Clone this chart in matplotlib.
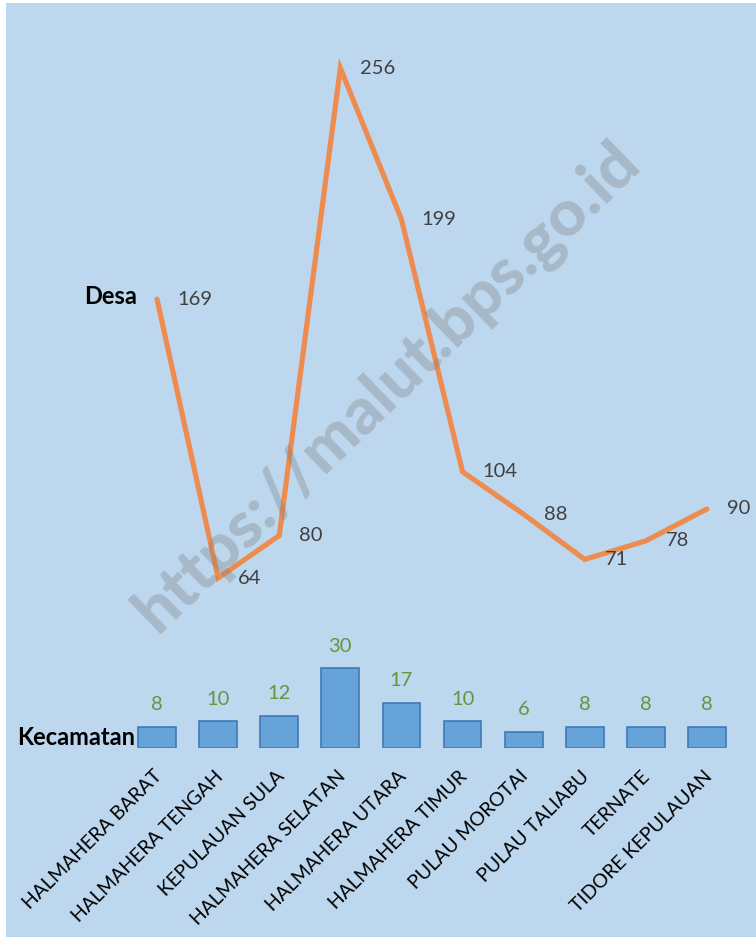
import matplotlib
matplotlib.use("Agg")
import matplotlib.pyplot as plt
import matplotlib.transforms as mtransforms
from matplotlib.patches import Rectangle

categories = ["HALMAHERA BARAT", "HALMAHERA TENGAH", "KEPULAUAN SULA",
              "HALMAHERA SELATAN", "HALMAHERA UTARA", "HALMAHERA TIMUR",
              "PULAU MOROTAI", "PULAU TALIABU", "TERNATE", "TIDORE KEPULAUAN"]
desa = [169, 64, 80, 256, 199, 104, 88, 71, 78, 90]
kecamatan = [8, 10, 12, 30, 17, 10, 6, 8, 8, 8]
series_names = ["Desa", "Kecamatan"]
watermark = "https://malut.bps.go.id"

W, H = 756, 941
fig = plt.figure(figsize=(W / 100, H / 100), dpi=100, facecolor="white")
bg = "#BDD7EE"
fig.patches.append(Rectangle((6 / W, (H - 937) / H), (W - 6) / W, (937 - 3) / H,
                             transform=fig.transFigure, facecolor=bg,
                             edgecolor="none", zorder=-10))

font = "Lato"
ax = fig.add_axes([126.5 / W, (H - 748) / H, 611 / W, 270 * 2.656 / H])
ax.set_zorder(1)
ax.set_facecolor("none")
ax.set_xlim(-0.5, 9.5)
ax.set_ylim(0, 270)
for s in ax.spines.values():
    s.set_visible(False)
ax.tick_params(axis="both", length=0)
ax.set_yticks([])

x = list(range(len(categories)))
ax.bar(x, kecamatan, width=0.62, color="#66A3D9", edgecolor="#3F7AB8",
       linewidth=1.2, zorder=2)
ax.plot(x, desa, color="#EE8B4E", linewidth=3.7, zorder=3,
        solid_joinstyle="miter", solid_capstyle="round")

for xi, v in zip(x, desa):
    ax.annotate(str(v), (xi, v), xytext=(14.5, 0), textcoords="offset points",
                ha="left", va="center", fontsize=14.5, color="#404040",
                family=font, zorder=5)
for xi, v in zip(x, kecamatan):
    ax.annotate(str(v), (xi, v), xytext=(0, 16), textcoords="offset points",
                ha="center", va="center", fontsize=14.5, color="#62963F",
                family=font, zorder=5)

ax.annotate(series_names[0], (0, desa[0]), xytext=(-14.5, 2),
            textcoords="offset points", ha="right", va="center",
            fontsize=17, fontweight="bold", color="black", family=font)
ax.annotate(series_names[1], (-0.31, 0), xytext=(-2, 7.5),
            textcoords="offset points", ha="right", va="center",
            fontsize=17, fontweight="bold", color="black", family=font)

ax.set_xticks(x)
ax.set_xticklabels(categories, rotation=45, ha="right", va="top",
                   rotation_mode="anchor", fontsize=14, family=font,
                   color="black")
ax.tick_params(axis="x", pad=14)
off = mtransforms.ScaledTranslation(-4 / 100, 0, fig.dpi_scale_trans)
for lbl in ax.get_xticklabels():
    lbl.set_transform(lbl.get_transform() + off)

fig.text(388 / W, (H - 388) / H, watermark, rotation=44, ha="center",
         va="center", rotation_mode="anchor", fontsize=47, fontweight="black",
         family="Lato", color="gray", alpha=0.35, zorder=10)

fig.savefig("out.png", dpi=100, facecolor="white")
